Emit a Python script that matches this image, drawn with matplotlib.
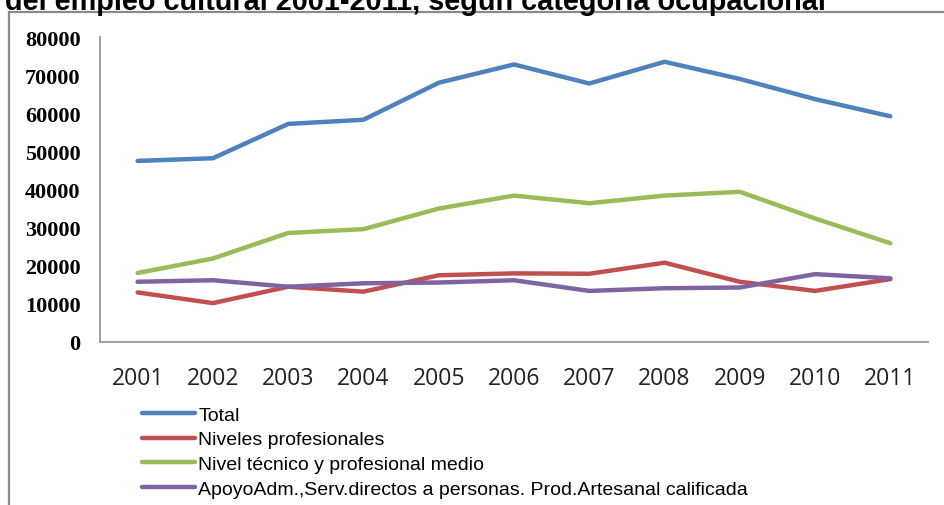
import matplotlib
matplotlib.use('Agg')
import matplotlib.pyplot as plt
from matplotlib.lines import Line2D

years = ['2001', '2002', '2003', '2004', '2005', '2006', '2007', '2008', '2009', '2010', '2011']
total = [47500, 48200, 57200, 58300, 68000, 72800, 67800, 73500, 69000, 63700, 59200]
profesionales = [13000, 10200, 14500, 13200, 17500, 18000, 17900, 20800, 15800, 13400, 16500]
tecnico = [18100, 21900, 28600, 29600, 35000, 38400, 36400, 38400, 39400, 32400, 25900]
apoyo = [15800, 16200, 14500, 15400, 15600, 16200, 13400, 14100, 14300, 17800, 16700]

labels = ['Total', 'Niveles profesionales', 'Nivel técnico y profesional medio',
          'ApoyoAdm.,Serv.directos a personas. Prod.Artesanal calificada']
colors = ['#4F81BD', '#C0504D', '#9BBB59', '#8064A2']
yticks = [0, 10000, 20000, 30000, 40000, 50000, 60000, 70000, 80000]

W, H = 944, 506
fig = plt.figure(figsize=(W / 100, H / 100), dpi=100)
ax = fig.add_axes([100 / W, 1 - 343 / H, 828 / W, 305 / H])

x = range(len(years))
for vals, lab, c in zip([total, profesionales, tecnico, apoyo], labels, colors):
    ax.plot(x, vals, color=c, lw=3.2, label=lab, solid_capstyle='round')

ax.set_xlim(-0.5, len(years) - 0.5)
ax.set_ylim(0, 80000)
ax.set_yticks(yticks)
ax.set_yticklabels([str(v) for v in yticks], family=['Liberation Serif', 'DejaVu Serif'],
                   fontweight='bold', fontsize=16)
ax.set_xticks(list(x))
ax.set_xticklabels(years, family=['Open Sans', 'DejaVu Sans'], fontsize=16.5)
ax.tick_params(axis='y', length=0, pad=14)
ax.tick_params(axis='x', length=0, pad=17, colors='#222222')
for s in ['top', 'right']:
    ax.spines[s].set_visible(False)
for s in ['left', 'bottom']:
    ax.spines[s].set_color('#9a9a9a')
    ax.spines[s].set_linewidth(1.3)

leg = fig.legend(loc='upper left', bbox_to_anchor=(142 / W, 1 - 407 / H), frameon=False,
                 handlelength=2.75, handletextpad=0.15, labelspacing=0.37,
                 borderaxespad=0, borderpad=0,
                 prop={'family': ['Liberation Sans', 'DejaVu Sans'], 'size': 14})

# outer frame of the chart area
fig.add_artist(Line2D([9 / W, 1], [1 - 13 / H, 1 - 13 / H], color='#8a8a8a', lw=1.6))
fig.add_artist(Line2D([9 / W, 9 / W], [0, 1 - 13 / H], color='#8a8a8a', lw=1.6))

fig.text(5 / W, 1 - 9.5 / H, 'del empleo cultural 2001-2011, según categoría ocupacional',
         family=['Liberation Sans', 'DejaVu Sans'], fontweight='bold', fontsize=20.8,
         va='baseline', ha='left')

fig.savefig('out.png', dpi=100)
